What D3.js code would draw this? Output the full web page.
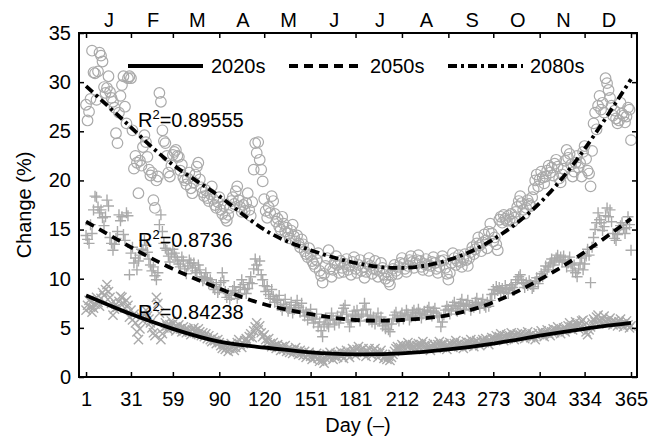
<!DOCTYPE html>
<html>
<head>
<meta charset="utf-8">
<script src="https://cdn.jsdelivr.net/npm/d3@7"></script>
<style>
  body { margin: 0; background: #fff; }
  svg { display: block; }
  text { font-family: "Liberation Sans", Arial, sans-serif; fill: #000; }
</style>
</head>
<body>
<svg id="chart" width="665" height="439"></svg>
<script>
// ---- data -------------------------------------------------------------
const tickDays = [1, 31, 59, 90, 120, 151, 181, 212, 243, 273, 304, 334, 365];
const monthLabels = ["J", "F", "M", "A", "M", "J", "J", "A", "S", "O", "N", "D"];
const monthMidDays = [16, 45.5, 75, 105.5, 136, 166.5, 197, 228, 258.5, 289, 319.5, 350];
const yTicks = [0, 5, 10, 15, 20, 25, 30, 35];
const seriesNames = ["2020s", "2050s", "2080s"];

// daily change (%) for each period, day 1..365
const change2080s = [
  27.7,26.1,27.0,28.3,33.2,31.0,30.9,28.2,31.1,33.0,
  32.7,32.1,29.5,28.9,29.4,30.6,29.0,28.4,28.0,27.4,
  24.8,23.8,26.9,28.6,29.7,30.6,27.5,25.8,30.4,30.6,
  30.4,25.1,21.2,22.5,21.8,18.7,22.0,21.5,23.4,24.6,
  23.9,22.4,21.1,20.5,20.8,18.0,17.2,20.0,20.4,28.9,
  28.0,25.1,24.0,23.8,22.5,20.8,20.4,21.5,22.6,22.9,
  23.1,22.5,22.4,21.0,21.6,20.3,20.0,19.6,20.2,20.8,
  19.2,18.7,19.8,20.6,21.4,21.8,20.1,19.3,18.8,18.4,
  19.0,18.2,17.9,18.6,19.4,18.1,17.5,17.2,17.8,18.3,
  17.0,16.6,17.4,16.2,15.9,16.5,17.2,17.9,18.3,17.6,
  18.9,19.4,18.0,17.3,16.8,17.5,16.9,17.7,18.7,17.0,
  16.4,17.8,21.1,23.8,22.8,23.9,22.1,21.1,19.9,18.1,
  16.9,16.2,17.3,16.7,18.4,17.9,16.6,15.8,16.1,15.3,
  15.0,16.3,15.6,14.8,15.2,14.6,14.1,14.9,15.5,14.3,
  13.8,14.4,13.6,13.2,14.0,13.5,12.8,12.5,12.2,13.1,
  12.4,11.8,11.5,11.2,11.9,12.6,10.8,10.3,9.6,10.5,
  11.3,12.1,12.9,11.0,10.2,10.9,11.6,12.3,11.4,10.6,
  11.8,11.1,10.7,11.5,12.0,10.9,11.3,10.4,11.7,12.2,
  11.0,10.6,11.4,11.9,10.8,11.2,10.1,10.7,11.5,12.1,
  11.3,10.5,11.0,11.8,10.9,10.2,10.8,11.6,11.1,10.4,
  10.0,10.7,9.7,9.4,10.3,11.0,11.4,10.8,10.5,11.2,
  11.6,12.1,11.5,11.0,10.7,11.3,11.9,12.3,11.7,11.1,
  11.6,11.9,12.4,11.8,11.2,10.9,11.5,12.0,11.4,10.8,
  11.3,11.7,12.2,11.6,11.0,10.6,11.2,11.8,12.3,11.9,
  11.1,10.5,9.9,10.6,11.6,12.6,12.1,11.4,11.8,12.4,
  11.7,11.2,12.0,12.5,11.9,11.3,12.1,12.7,13.2,12.5,
  13.0,13.6,14.2,13.4,12.8,13.7,14.5,13.9,13.1,14.8,
  15.6,14.6,13.8,14.2,13.5,12.9,16.0,16.3,15.7,16.5,
  16.1,15.9,16.4,16.0,16.6,15.8,16.2,16.8,17.3,17.9,
  18.4,17.7,17.0,16.6,17.2,18.0,17.6,17.4,18.3,19.1,
  20.0,20.6,19.4,20.1,20.9,20.3,19.7,20.4,21.0,21.5,
  20.8,21.3,20.5,21.7,22.1,21.4,20.2,19.8,20.6,21.2,
  22.0,23.1,22.3,22.7,21.6,20.4,20.9,21.8,22.5,21.3,
  21.8,20.4,22.9,23.5,22.2,21.0,20.7,19.4,23.0,25.8,
  26.9,25.2,27.6,28.6,27.2,27.9,26.9,30.4,29.9,29.2,
  28.4,27.6,26.6,27.1,26.3,25.8,26.1,27.9,26.8,26.6,
  25.9,26.5,27.4,27.2,24.1
];
const change2050s = [
  14.4,14.0,13.6,15.5,14.6,17.0,18.4,18.3,17.3,16.7,
  17.0,16.2,15.4,16.3,18.0,17.4,14.2,13.6,12.9,13.5,
  14.1,14.8,16.5,15.9,16.3,14.5,13.9,16.7,16.4,10.4,
  12.6,13.2,11.6,12.1,10.9,11.8,12.4,13.0,12.9,13.9,
  13.4,12.7,12.0,11.4,10.8,11.2,10.3,9.9,10.6,15.5,
  16.5,14.8,13.6,13.1,12.9,12.3,11.7,12.5,13.0,12.6,
  12.2,11.9,11.5,11.2,12.2,11.8,11.0,10.5,11.3,11.9,
  11.6,11.1,11.6,10.8,10.6,11.4,10.9,10.2,9.8,10.1,
  10.6,10.0,9.5,9.9,9.6,9.2,8.9,9.4,8.6,8.9,
  9.6,10.6,9.8,8.7,8.1,8.5,7.9,8.3,8.8,9.2,
  8.6,8.0,8.4,9.1,9.9,9.4,8.9,8.5,9.0,9.6,
  10.2,9.5,11.0,12.0,11.4,10.9,11.8,10.4,9.9,9.3,
  8.7,9.2,8.4,8.0,8.9,8.2,7.6,7.9,7.8,8.3,
  7.2,6.8,7.4,7.9,7.1,6.7,7.0,7.6,6.5,6.9,
  7.3,7.8,7.1,6.6,7.5,6.8,6.2,6.6,5.8,6.3,
  6.9,6.1,5.5,5.9,6.4,5.1,5.6,4.7,4.1,5.3,
  6.0,5.4,5.1,5.8,6.5,5.9,5.3,5.8,6.2,5.5,
  6.0,6.6,7.0,7.3,6.4,5.8,5.1,5.6,6.2,6.7,
  6.3,6.8,6.1,5.7,6.4,6.8,7.5,6.9,6.2,5.8,
  6.3,5.6,6.1,5.4,5.9,6.5,5.7,6.1,5.2,5.5,
  4.9,5.3,4.8,4.6,5.4,5.9,6.3,6.6,6.0,5.7,
  6.2,6.5,5.9,6.3,6.8,6.4,5.8,6.1,6.6,6.8,
  6.2,6.5,6.9,6.5,6.0,6.4,6.7,6.3,6.8,7.1,
  6.6,6.2,6.7,7.0,6.5,6.2,6.1,5.1,5.6,6.3,
  6.8,7.2,6.9,6.4,6.8,7.3,7.6,7.0,6.7,7.2,
  7.5,7.9,7.3,6.9,7.4,7.8,7.2,6.8,7.3,7.1,
  7.6,8.0,7.4,7.0,7.5,7.9,7.3,7.1,7.6,7.2,
  7.8,8.4,8.9,8.5,9.2,8.8,9.1,8.7,9.0,8.6,
  9.3,8.9,8.5,9.0,9.4,9.1,8.8,9.6,9.9,10.2,
  10.4,9.9,9.5,9.1,9.6,9.3,9.8,9.4,9.0,9.2,
  9.7,10.1,9.5,10.0,10.5,10.2,10.7,11.3,10.9,11.2,
  11.6,12.0,11.4,11.8,12.1,12.4,11.9,12.2,11.7,12.3,
  11.9,11.2,11.6,12.2,11.5,10.8,11.4,10.6,10.2,11.0,
  11.6,12.1,10.9,11.5,12.3,13.0,12.4,9.6,13.2,14.2,
  15.0,15.7,16.7,16.0,15.7,14.9,15.3,16.4,17.2,16.3,
  17.0,15.8,14.6,14.1,13.9,14.5,15.0,15.4,15.7,15.1,
  14.6,15.2,16.3,15.5,12.9
];
const change2020s = [
  6.8,7.3,7.8,7.1,6.6,7.0,7.4,8.1,7.6,7.2,
  8.0,8.6,8.3,8.9,9.4,8.7,8.1,7.5,6.3,6.9,
  7.4,7.1,7.7,8.2,8.1,7.5,7.0,7.8,7.3,6.1,
  6.8,5.8,6.4,5.5,4.6,3.8,4.9,6.1,5.7,6.3,
  6.8,6.2,5.9,5.5,5.0,4.5,4.2,8.1,7.5,6.5,
  3.8,4.4,5.0,5.5,5.2,4.8,5.3,5.7,5.4,5.0,
  4.7,5.1,5.3,4.9,4.6,5.1,4.8,4.5,4.9,4.6,
  4.3,4.8,5.0,4.7,4.4,4.9,4.6,4.2,4.5,4.1,
  4.4,3.9,4.2,3.8,3.6,4.0,3.7,3.4,3.8,3.5,
  3.2,2.9,3.3,2.8,3.0,2.6,2.9,3.4,3.1,2.7,
  3.0,3.5,3.8,3.3,3.0,3.4,3.7,3.9,3.6,4.1,
  4.4,4.0,4.7,5.1,5.5,4.8,5.2,4.5,4.1,4.3,
  3.8,3.5,3.9,3.4,3.1,3.5,3.2,2.9,3.3,3.0,
  2.7,3.1,2.8,3.2,2.6,2.9,2.5,2.8,2.4,2.7,
  3.0,2.6,2.3,2.7,2.4,2.2,2.6,2.0,2.3,2.5,
  2.1,1.8,2.2,2.0,2.4,1.9,1.6,2.1,1.7,1.4,
  1.9,2.3,2.0,2.5,2.2,1.8,2.1,2.4,2.0,2.3,
  2.6,2.2,1.9,2.4,2.7,2.3,2.0,2.5,2.9,2.6,
  2.2,2.8,3.1,2.7,2.4,2.9,2.5,2.1,2.6,2.9,
  2.4,2.2,2.7,2.9,2.5,2.0,2.4,2.7,2.3,1.9,
  2.2,1.8,2.1,1.7,2.0,2.3,2.6,2.9,3.1,2.8,
  3.0,3.3,3.1,2.8,3.2,3.5,3.2,2.9,3.3,3.1,
  2.8,3.2,3.4,3.0,3.3,3.6,3.2,2.9,3.3,3.0,
  2.7,3.1,3.4,3.2,2.9,3.3,3.6,3.3,3.0,3.4,
  3.1,2.8,3.2,3.5,3.3,3.0,3.4,3.7,3.3,3.1,
  3.5,3.2,2.9,3.3,3.6,3.2,3.5,3.8,3.4,3.1,
  3.5,3.7,3.4,3.2,3.6,3.8,3.5,3.9,3.6,3.3,
  3.7,4.0,3.8,3.9,4.2,3.8,4.1,4.4,4.0,3.7,
  4.1,4.3,3.9,4.2,4.5,4.1,3.8,4.2,4.4,4.0,
  4.3,4.5,4.1,3.9,4.3,4.6,4.2,4.0,4.4,4.1,
  3.8,4.2,4.5,4.3,4.7,4.4,4.1,4.5,4.8,4.4,
  4.2,4.6,4.9,4.5,4.8,5.1,4.7,4.4,4.8,5.0,
  4.6,4.9,5.2,5.5,5.1,4.8,5.2,5.6,5.3,4.9,
  5.4,5.7,5.8,5.3,4.6,4.3,4.8,5.1,5.5,5.9,
  5.6,6.1,6.3,5.8,5.5,5.9,6.2,5.7,5.4,5.8,
  6.0,5.6,5.3,5.7,5.5,5.2,5.6,5.9,5.4,5.1,
  5.5,5.7,5.3,5.0,5.2
];

// fitted trend values at the tick days
const fit2020s = [8.3, 6.4, 4.9, 3.6, 3.0, 2.5, 2.3, 2.4, 2.8, 3.4, 4.2, 4.9, 5.5];
const fit2050s = [15.8, 13.2, 11.0, 9.0, 7.4, 6.4, 5.8, 5.8, 6.3, 7.6, 9.9, 12.7, 16.1];
const fit2080s = [29.6, 25.4, 21.6, 18.4, 15.0, 12.9, 11.6, 11.1, 11.9, 14.0, 17.7, 23.2, 30.3];
const rSquared = ["0.84238", "0.8736", "0.89555"];

// ---- layout -----------------------------------------------------------
const svg = d3.select("#chart");
const plot = { left: 79, right: 637, top: 33, bottom: 377 };
const FONT = 20;
const markerGray = "#aaaaaa";

const x = d3.scaleLinear().domain([-3.7, 369]).range([plot.left, plot.right]);
const y = d3.scaleLinear().domain([0, 35]).range([plot.bottom, plot.top]);

const series = [
  { name: seriesNames[0], values: change2020s, fit: fit2020s, marker: "x",      dash: null,        r2: rSquared[0], labelAt: [35.7, 5.9] },
  { name: seriesNames[1], values: change2050s, fit: fit2050s, marker: "plus",   dash: "9,6",       r2: rSquared[1], labelAt: [35.7, 13.2] },
  { name: seriesNames[2], values: change2080s, fit: fit2080s, marker: "circle", dash: "9,4,3,4",   r2: rSquared[2], labelAt: [35.7, 25.4] }
];

// ---- markers ----------------------------------------------------------
const marks = svg.append("g").attr("fill", "none").attr("stroke", markerGray);

function markerPath(kind, cx, cy) {
  if (kind === "plus") {
    const s = 5.5;
    return `M${cx - s},${cy}H${cx + s}M${cx},${cy - s}V${cy + s}`;
  }
  const s = 4.6;
  return `M${cx - s},${cy - s}L${cx + s},${cy + s}M${cx - s},${cy + s}L${cx + s},${cy - s}`;
}

[series[2], series[1], series[0]].forEach(s => {
  const pts = s.values.map((v, i) => ({ day: i + 1, v }));
  const g = marks.append("g");
  if (s.marker === "circle") {
    g.selectAll("circle").data(pts).join("circle")
      .attr("cx", d => x(d.day)).attr("cy", d => y(d.v))
      .attr("r", 5.3).attr("stroke-width", 1.2);
  } else {
    g.selectAll("path").data(pts).join("path")
      .attr("d", d => markerPath(s.marker, x(d.day), y(d.v)))
      .attr("stroke-width", 1.4);
  }
});

// ---- fitted curves ----------------------------------------------------
const line = d3.line()
  .x(d => x(d[0])).y(d => y(d[1]))
  .curve(d3.curveNatural);

series.forEach(s => {
  svg.append("path")
    .datum(tickDays.map((d, i) => [d, s.fit[i]]))
    .attr("d", line)
    .attr("fill", "none")
    .attr("stroke", "#000")
    .attr("stroke-width", 3.8)
    .attr("stroke-dasharray", s.dash);
});

// ---- R² labels --------------------------------------------------------
series.forEach(s => {
  const t = svg.append("text")
    .attr("x", x(s.labelAt[0])).attr("y", y(s.labelAt[1]))
    .attr("font-size", FONT);
  t.append("tspan").text("R");
  t.append("tspan").attr("font-size", 13).attr("dy", -8).text("2");
  t.append("tspan").attr("dy", 8).text("=" + s.r2);
});

// ---- axes -------------------------------------------------------------
const axisStyle = g => {
  g.select(".domain").remove();
  g.selectAll(".tick line").attr("stroke", "#000").attr("stroke-width", 1.5);
  g.selectAll(".tick text").attr("font-size", FONT).attr("fill", "#000")
    .attr("font-family", '"Liberation Sans", Arial, sans-serif');
};

svg.append("g").attr("transform", `translate(0,${plot.bottom})`)
  .call(d3.axisBottom(x).tickValues(tickDays).tickSizeInner(-5).tickSizeOuter(0).tickPadding(15))
  .call(axisStyle);

svg.append("g").attr("transform", `translate(0,${plot.top})`)
  .call(d3.axisTop(x).tickValues(tickDays).tickSizeInner(-5).tickSizeOuter(0).tickFormat(""))
  .call(axisStyle);

svg.append("g").attr("transform", `translate(0,${plot.top})`)
  .call(d3.axisTop(x).tickValues(monthMidDays).tickSize(0).tickPadding(6)
    .tickFormat((d, i) => monthLabels[i]))
  .call(axisStyle);

svg.append("g").attr("transform", `translate(${plot.left},0)`)
  .call(d3.axisLeft(y).tickValues(yTicks).tickSizeInner(-5).tickSizeOuter(0).tickPadding(8))
  .call(axisStyle);

svg.append("g").attr("transform", `translate(${plot.right},0)`)
  .call(d3.axisRight(y).tickValues(yTicks).tickSizeInner(-5).tickSizeOuter(0).tickFormat(""))
  .call(axisStyle);

// frame
svg.append("rect")
  .attr("x", plot.left).attr("y", plot.top)
  .attr("width", plot.right - plot.left).attr("height", plot.bottom - plot.top)
  .attr("fill", "none").attr("stroke", "#000").attr("stroke-width", 2);

// axis titles
svg.append("text")
  .attr("x", (plot.left + plot.right) / 2).attr("y", 432)
  .attr("text-anchor", "middle").attr("font-size", FONT)
  .text("Day (–)");

svg.append("text")
  .attr("transform", `translate(31,${(plot.top + plot.bottom) / 2}) rotate(-90)`)
  .attr("text-anchor", "middle").attr("font-size", FONT)
  .text("Change (%)");

// ---- legend -----------------------------------------------------------
const legendItems = [
  { s: series[0], x0: 128, x1: 203, tx: 211 },
  { s: series[1], x0: 289, x1: 362, tx: 370 },
  { s: series[2], x0: 448, x1: 523, tx: 530 }
];
const legendY = 66;
const legend = svg.append("g");
legendItems.forEach(it => {
  legend.append("line")
    .attr("x1", it.x0).attr("x2", it.x1).attr("y1", legendY).attr("y2", legendY)
    .attr("stroke", "#000").attr("stroke-width", 3.8)
    .attr("stroke-dasharray", it.s.dash);
  legend.append("text")
    .attr("x", it.tx).attr("y", legendY + 7)
    .attr("font-size", FONT)
    .text(it.s.name);
});
</script>
</body>
</html>
